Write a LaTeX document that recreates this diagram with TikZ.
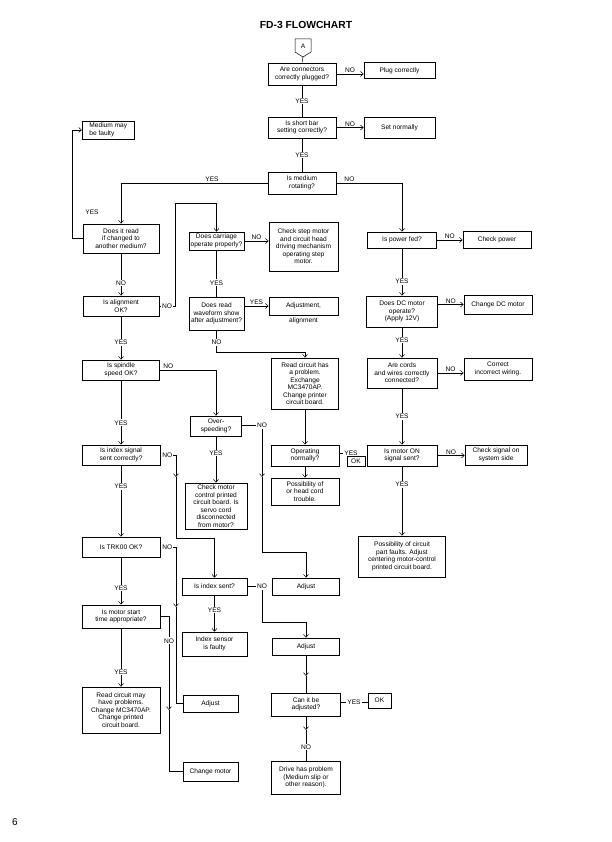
\documentclass[tikz,border=0pt]{standalone}
\usepackage{fontspec}
\setmainfont{Liberation Sans}
\usetikzlibrary{arrows.meta}

\newcommand{\fcfont}{\fontsize{6.6}{7.5}\selectfont}

\begin{document}
\begin{tikzpicture}[x=1pt,y=-1pt,
    >={Straight Barb[length=3pt,width=5pt]},
    chk/.style={draw,line width=0.6pt,align=center,inner sep=0.5pt,font=\fcfont},
    wh/.style 2 args={minimum width=#1,minimum height=#2},
    lbl/.style={font=\fcfont,inner sep=1pt},
    onl/.style={lbl,fill=white},
    arrow/.style={->,line width=0.5pt},
    wire/.style={line width=0.5pt}]

    \useasboundingbox (0,0) rectangle (612,842);

    % Title
    \node[font=\fontsize{10.3}{12}\selectfont\bfseries] (title) at (306,25) {FD-3 FLOWCHART};

    % Start connector
    \draw[wire] (295,39) -- (311,39) -- (311,52) -- (303,57) -- (295,52) -- cycle;
    \node[lbl] (A) at (303,46) {A};
    \coordinate (Atip) at (303,57);

    % Main column
    \node[chk,wh={68}{22}] (conn) at (302,74) {Are connectors\\correctly plugged?};
    \node[chk,wh={71}{16}] (plug) at (399.5,70.5) {Plug correctly};
    \node[chk,wh={68}{21}] (shortbar) at (302,127.5) {Is short bar\\setting correctly?};
    \node[chk,wh={71}{21}] (setnorm) at (399.5,127.5) {Set normally};
    \node[chk,wh={68}{22}] (rot) at (302,183) {Is medium\\rotating?};

    % Left column
    \node[chk,wh={52}{18},align=left,inner sep=2pt,anchor=west] (faulty) at (82,130) {Medium may\\be faulty};
    \node[chk,wh={76}{29}] (readother) at (121,238.5) {Does it read\\if changed to\\another medium?};
    \node[chk,wh={76}{20}] (align) at (121,306) {Is alignment\\OK?};
    \node[chk,wh={77}{20}] (spindle) at (121,370) {Is spindle\\speed OK?};
    \node[chk,wh={78}{20}] (idxsig) at (121,455) {Is index signal\\sent correctly?};
    \node[chk,wh={78}{20}] (trk) at (121,547) {Is TRK00 OK?};
    \node[chk,wh={78}{23}] (mstart) at (121,616.5) {Is motor start\\time appropriate?};
    \node[chk,wh={78}{46}] (rdmay) at (121,710) {Read circuit may\\have problems.\\Change MC3470AP.\\Change printed\\circuit board.};

    % Middle columns
    \node[chk,wh={55}{18}] (carr) at (216.5,241) {Does carriage\\operate properly?};
    \node[chk,wh={69}{49}] (stepm) at (303.5,246.5) {Check step motor\\and circuit head\\driving mechanism\\operating step\\motor.};
    \node[chk,wh={55}{33}] (wave) at (216.5,313.5) {Does read\\waveform show\\after adjustment?};
    \node[chk,wh={69}{18}] (adjal) at (303.5,306) {Adjustment,};
    \node[lbl] (adjal2) at (303.5,321) {alignment};
    \node[chk,wh={67}{51}] (rdprob) at (305,383.5) {Read circuit has\\a problem.\\Exchange\\MC3470AP.\\Change printer\\circuit board.};
    \node[chk,wh={51}{20}] (overspd) at (216,426) {Over-\\speeding?};
    \node[chk,wh={68}{21}] (opnorm) at (305,455.5) {Operating\\normally?};
    \node[chk,wh={18}{10}] (ok1) at (356,461) {OK};
    \node[chk,wh={68}{27}] (headcord) at (305,491.5) {Possibility of\\or head cord\\trouble.};
    \node[chk,wh={62}{46}] (chkmot) at (216,506) {Check motor\\control printed\\circuit board. Is\\servo cord\\disconnected\\from motor?};
    \node[chk,wh={65}{17}] (idxsent) at (214.5,586.5) {Is index sent?};
    \node[chk,wh={67}{17}] (adj1) at (306,586.5) {Adjust};
    \node[chk,wh={65}{24}] (idxfault) at (214.5,644) {Index sensor\\is faulty};
    \node[chk,wh={67}{17}] (adj2) at (306,646.5) {Adjust};
    \node[chk,wh={55}{17}] (adj3) at (210.5,703.5) {Adjust};
    \node[chk,wh={69}{23}] (canadj) at (306,704.5) {Can it be\\adjusted?};
    \node[chk,wh={23}{15}] (ok2) at (379.5,700.5) {OK};
    \node[chk,wh={55}{19}] (chgmot) at (210.5,771.5) {Change motor};
    \node[chk,wh={69}{33}] (drive) at (306,777.5) {Drive has problem\\(Medium slip or\\other reason).};

    % Right column
    \node[chk,wh={69}{16}] (pwr) at (402,240) {Is power fed?};
    \node[chk,wh={68}{17}] (chkpwr) at (497,239.5) {Check power};
    \node[chk,wh={71}{31}] (dcm) at (402,311.5) {Does DC motor\\operate?\\(Apply 12V)};
    \node[chk,wh={68}{19}] (chgdc) at (498,304.5) {Change DC motor};
    \node[chk,wh={70}{30}] (cords) at (402,373) {Are cords\\and wires correctly\\connected?};
    \node[chk,wh={68}{22}] (wiring) at (498,369) {Correct\\incorrect wiring.};
    \node[chk,wh={70}{21}] (motoron) at (402,455.5) {Is motor ON\\signal sent?};
    \node[chk,wh={62}{20}] (chksig) at (496,455) {Check signal on\\system side};
    \node[chk,wh={87}{41}] (circfault) at (402,556.5) {Possibility of circuit\\part faults. Adjust\\centering motor-control\\printed circuit board.};

    % Page number
    \node[font=\fontsize{10}{12}\selectfont] (pg) at (15,822) {6};

    % Junctions
    \coordinate (jA) at (175,203);
    \coordinate (jB) at (176,538);
    \coordinate (jBm) at (176,477);
    \coordinate (jC) at (176,607);
    \coordinate (jD) at (169,710);
    \coordinate (jE) at (262,477);
    \coordinate (jF) at (262,552);
    \coordinate (jG) at (262,622);
    \coordinate (jH) at (306,730);
    \coordinate (jJ) at (306,676);

    % NO branches to the right
    \foreach \a/\b in {conn/plug, shortbar/setnorm, carr/stepm, pwr/chkpwr, cords/wiring, motoron/chksig}
      \draw[arrow] (\a.east) -- node[lbl,above] (no\a) {NO} (\a.east -| \b.west);
    \draw[arrow] (dcm.east |- chgdc.west) -- node[lbl,above] (nodcm) {NO} (chgdc.west);
    \draw[arrow] (wave.east |- adjal.west) -- node[lbl,above] (yeswave) {YES} (adjal.west);

    % Main column
    \draw[wire] (Atip) -- (conn.north);
    \draw[wire] (conn.south) -- node[onl] (y1) {YES} (shortbar.north);
    \draw[wire] (shortbar.south) -- node[onl] (y2) {YES} (rot.north);
    \draw[arrow] (rot.east) -- node[lbl,above,pos=.2] (n1) {NO} (rot.east -| pwr.north) -- (pwr.north);
    \draw[arrow] (rot.west) -- node[lbl,above,pos=.38] (y3) {YES} (rot.west -| readother.north) -- (readother.north);

    % Left column
    \draw[arrow] (readother.west) -- ++(-10,0) |- (faulty.west);
    \node[lbl] (yf) at (92,212) {YES};
    \draw[arrow] (readother.south) -- node[onl,pos=.7] (n2) {NO} (align.north);
    \draw[arrow] (align.east) -- node[onl] (n3) {NO} (align.east -| jA) -- (jA) -| (carr.north);
    \draw[arrow] (align.south) -- node[onl,pos=.6] (y4) {YES} (spindle.north);
    \draw[arrow] (spindle.east) -- node[lbl,above,pos=.15] (n4) {NO} (spindle.east -| overspd.north) -- (overspd.north);
    \draw[arrow] (spindle.south) -- node[onl,pos=.66] (y5) {YES} (idxsig.north);
    \draw[arrow] (idxsig.east) -- node[onl,pos=.45] (n6) {NO} (idxsig.east -| jBm) -- (jBm);
    \draw[arrow] (jBm) -- (jB) -| (idxsent.north);
    \draw[arrow] (idxsig.south) -- node[onl,pos=.3] (y6) {YES} (trk.north);
    \draw[arrow] (trk.east) -- node[onl,pos=.45] (n7) {NO} (trk.east -| jC) -- (jC);
    \draw[wire] (jC) |- (adj3.west);
    \draw[arrow] (trk.south) -- node[onl,pos=.65] (y7) {YES} (mstart.north);
    \draw[arrow] (mstart.east) -- (mstart.east -| jD) -- node[onl,pos=.26] (n8) {NO} (jD);
    \draw[wire] (jD) |- (chgmot.west);
    \draw[arrow] (mstart.south) -- node[onl,pos=.75] (y8) {YES} (rdmay.north);

    % Middle columns
    \draw[wire] (carr.south) -- node[onl,pos=.7] (y9) {YES} (wave.north);
    \draw[arrow] (wave.south) -- node[onl,pos=.55] (n5) {NO} ++(0,22) -| (rdprob.north);
    \draw[arrow] (rdprob.south) -- (opnorm.north);
    \draw[arrow] (opnorm.south) -- (headcord.north);
    \node[lbl] (yO) at (351,453) {YES};
    \draw[wire] (opnorm.east |- yO) -- (yO.west);
    \draw[arrow] (overspd.south) -- node[onl,pos=.36] (y10) {YES} (chkmot.north);
    \node[lbl] (nO) at (262,425) {NO};
    \draw[wire] (overspd.east |- nO) -- (nO.west);
    \draw[arrow] (nO.south) -- (jE);
    \draw[arrow] (jE) -- (jF) -| (adj1.north);
    \draw[arrow] (idxsent.south) -- node[onl,pos=.4] (y11) {YES} (idxfault.north);
    \node[lbl] (nI) at (262,586.5) {NO};
    \draw[wire] (idxsent.east) -- (nI.west);
    \draw[arrow] (nI.south) -- (jG) -| (adj2.north);
    \draw[arrow] (adj2.south) -- (jJ);
    \draw[wire] (jJ) -- (canadj.north);
    \node[lbl] (yC) at (354,702) {YES};
    \draw[wire] (canadj.east |- yC) -- (yC.west);
    \draw[wire] (yC.east) -- (ok2.west |- yC);
    \draw[arrow] (canadj.south) -- (jH);
    \draw[wire] (jH) -- node[onl,pos=.55] (n9) {NO} (drive.north);

    % Right column
    \draw[arrow] (pwr.south) -- node[onl,pos=.7] (y12) {YES} (dcm.north);
    \draw[arrow] (dcm.south) -- node[onl,pos=.42] (y13) {YES} (cords.north);
    \draw[arrow] (cords.south) -- node[onl] (y14) {YES} (motoron.north);
    \draw[arrow] (motoron.south) -- node[onl,pos=.26] (y15) {YES} (circfault.north);
\end{tikzpicture}
\end{document}
